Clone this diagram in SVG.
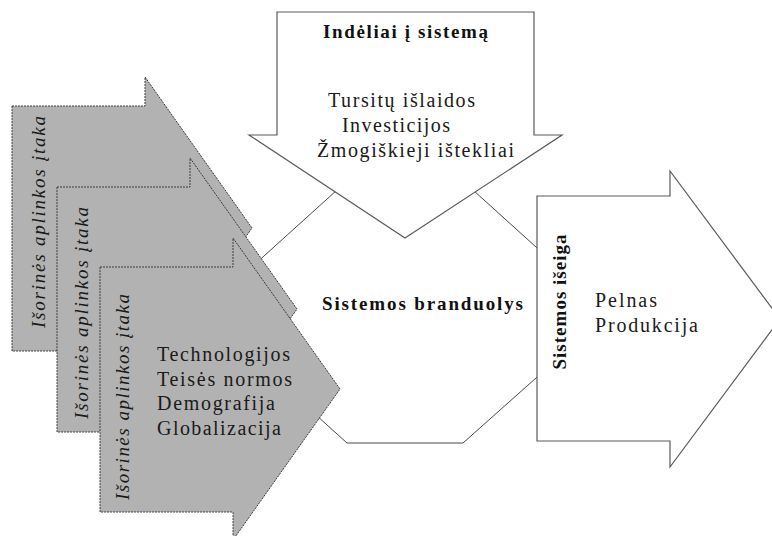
<svg xmlns="http://www.w3.org/2000/svg" width="772" height="536" viewBox="0 0 772 536">
  <style>
    .outline { fill: #ffffff; stroke: #5a5a5a; stroke-width: 1.2; }
    .core { fill: #ffffff; stroke: #4a4a4a; stroke-width: 1; }
    .gray { fill: #b2b2b2; stroke: #3c3c3c; stroke-width: 1; stroke-dasharray: 2 1; }
    .txt { font-family: "Liberation Serif", "DejaVu Serif", serif; font-size: 20px; fill: #1a1a1a; }
    .bold { font-family: "Liberation Serif", "DejaVu Serif", serif; font-size: 19px; font-weight: bold; fill: #111111; }
    .ital { font-family: "Liberation Serif", "DejaVu Serif", serif; font-size: 19px; font-style: italic; fill: #1a1a1a; }
  </style>
  <defs>
    <!-- right-pointing block arrow, shaft top-left at the origin -->
    <polygon id="blockArrow" points="0,0 133,0 133,-29 240,122 133,273 133,245 0,245"/>
  </defs>

  <rect width="772" height="536" fill="#ffffff"/>

  <!-- system core (hexagon) -->
  <g id="core">
    <polygon class="core" points="202,312 347,181 463,181 609,313 463,443 347,443"/>
    <text class="bold" x="322" y="310" textLength="201" lengthAdjust="spacing">Sistemos branduolys</text>
  </g>

  <!-- inputs (down arrow) -->
  <g id="inputs">
    <polygon class="outline" points="277,12 534,12 534,135 562,135 405,238 249,135 277,135"/>
    <text class="bold" x="323" y="38" textLength="165" lengthAdjust="spacing">Indėliai į sistemą</text>
    <text class="txt" x="328" y="107" textLength="147" lengthAdjust="spacing">Tursitų išlaidos</text>
    <text class="txt" x="342" y="132" textLength="108" lengthAdjust="spacing">Investicijos</text>
    <text class="txt" x="317" y="157" textLength="197" lengthAdjust="spacing">Žmogiškieji ištekliai</text>
  </g>

  <!-- output (right arrow) -->
  <g id="output">
    <polygon class="outline" points="537,196 670,196 670,171 780,319 670,467 670,441 537,441"/>
    <text class="bold" transform="translate(566,302) rotate(-90)" text-anchor="middle" textLength="135" lengthAdjust="spacing">Sistemos išeiga</text>
    <text class="txt" x="595" y="307" textLength="62" lengthAdjust="spacing">Pelnas</text>
    <text class="txt" x="595" y="332" textLength="103" lengthAdjust="spacing">Produkcija</text>
  </g>

  <!-- external environment influences (stacked grey arrows) -->
  <g id="influence1">
    <use href="#blockArrow" class="gray" transform="translate(12,106)"/>
    <text class="ital" transform="translate(45,222) rotate(-90)" text-anchor="middle" textLength="212" lengthAdjust="spacing">Išorinės aplinkos įtaka</text>
  </g>
  <g id="influence2">
    <use href="#blockArrow" class="gray" transform="translate(57,187)"/>
    <text class="ital" transform="translate(88,313) rotate(-90)" text-anchor="middle" textLength="212" lengthAdjust="spacing">Išorinės aplinkos įtaka</text>
  </g>
  <g id="influence3">
    <use href="#blockArrow" class="gray" transform="translate(100,267)"/>
    <text class="ital" transform="translate(129,397) rotate(-90)" text-anchor="middle" textLength="206" lengthAdjust="spacing">Išorinės aplinkos įtaka</text>
    <text class="txt" x="157" y="361" textLength="133" lengthAdjust="spacing">Technologijos</text>
    <text class="txt" x="157" y="386" textLength="135" lengthAdjust="spacing">Teisės normos</text>
    <text class="txt" x="157" y="410" textLength="118" lengthAdjust="spacing">Demografija</text>
    <text class="txt" x="157" y="435" textLength="124" lengthAdjust="spacing">Globalizacija</text>
  </g>
</svg>
